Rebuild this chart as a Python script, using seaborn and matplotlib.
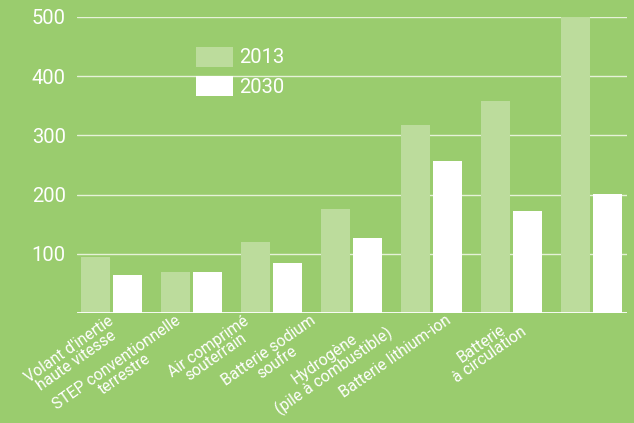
""" Stockage d'energie - cout 2013 vs 2030 """

import pandas as pd
import matplotlib
matplotlib.use('Agg')
import matplotlib.pyplot as plt
import matplotlib.transforms as mtransforms
import seaborn as sns

# Data
technologies = [
    "Volant d'inertie\nhaute vitesse",
    "STEP conventionnelle\nterrestre",
    "Air comprimé\nsouterrain",
    "Batterie sodium\nsoufre",
    "Hydrogène\n(pile à combustible)",
    "Batterie lithium-ion",
    "Batterie\nà circulation",
]
values_2013 = [95, 70, 120, 176, 318, 358, 500]
values_2030 = [65, 70, 85, 126, 257, 172, 201]
years = ['2013', '2030']
y_ticks = [100, 200, 300, 400, 500]

bg_green = '#9ACC6E'
light_green = '#BCDC9C'

df = pd.DataFrame({
    'Technologie': technologies * 2,
    'Annee': [years[0]] * len(technologies) + [years[1]] * len(technologies),
    'Valeur': values_2013 + values_2030,
})

sns.set_style('white')
plt.rcParams['font.family'] = ['Roboto', 'DejaVu Sans']

fig = plt.figure(figsize=(6.34, 4.23), dpi=100, facecolor=bg_green)
ax = fig.add_axes([0.1215, 0.26, 0.8675, 0.70])
ax.set_facecolor(bg_green)

sns.barplot(data=df, x='Technologie', y='Valeur', hue='Annee',
            palette=[light_green, 'white'], width=0.8, gap=0.1,
            saturation=1, linewidth=0, ax=ax, zorder=3)

# grid + baseline
for v in y_ticks:
    ax.axhline(v, color='#E6F2D8', lw=1.0, zorder=1)
ax.axhline(0, color='white', lw=2, zorder=4)

ax.set_ylim(0, 500)
ax.set_xlim(-0.43, 6.44)
ax.set_yticks(y_ticks)
ax.set_yticklabels([str(v) for v in y_ticks], fontsize=14.5, color='white')
ax.tick_params(axis='both', length=0)
ax.tick_params(axis='y', pad=8)
ax.set_xticks(range(len(technologies)))
ax.set_xticklabels([])
ax.set_xlabel('')
ax.set_ylabel('')
for s in ax.spines.values():
    s.set_visible(False)

# category labels: slanted, drifting left a little more for each group
base = mtransforms.blended_transform_factory(ax.transData, ax.transAxes)
for i, name in enumerate(technologies):
    shift = -(4 + 12.5 * i) / 100.0
    tr = base + mtransforms.ScaledTranslation(shift, 0.0, fig.dpi_scale_trans)
    ax.text(i, 0, name, transform=tr, rotation=35, rotation_mode='anchor',
            ha='right', va='top', multialignment='center', linespacing=0.88,
            fontsize=11.3, color='white', clip_on=False)

leg = ax.legend(loc='upper left', bbox_to_anchor=(0.216, 0.90), frameon=False,
                fontsize=14.5, handlelength=1.85, handleheight=1.15,
                handletextpad=0.3, labelspacing=0.45, borderpad=0, borderaxespad=0)
for t in leg.get_texts():
    t.set_color('white')

fig.savefig('out.png', dpi=100, facecolor=bg_green)
